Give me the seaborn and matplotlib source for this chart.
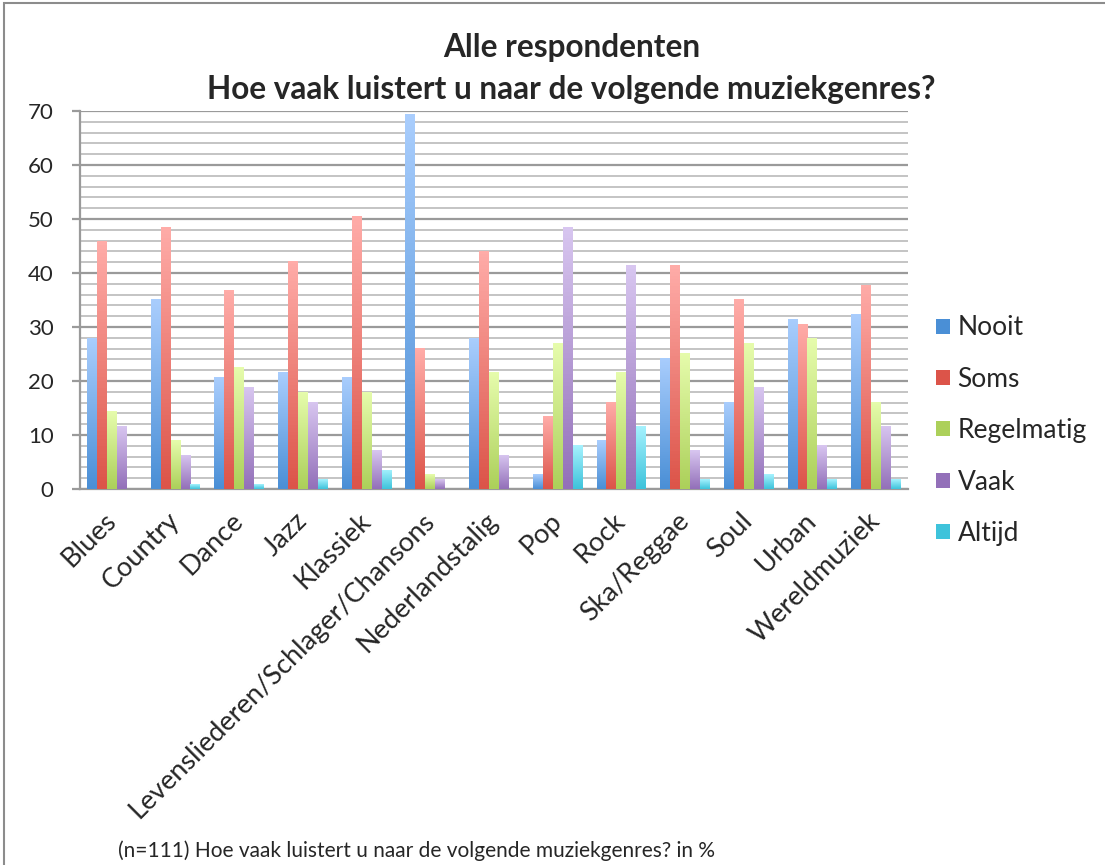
import matplotlib
matplotlib.use("Agg")
import matplotlib.pyplot as plt
from matplotlib.colors import LinearSegmentedColormap
from matplotlib.patches import Rectangle
from matplotlib.ticker import MultipleLocator
import numpy as np
import pandas as pd
import seaborn as sns

genres = ["Blues", "Country", "Dance", "Jazz", "Klassiek",
          "Levensliederen/Schlager/Chansons", "Nederlandstalig", "Pop", "Rock",
          "Ska/Reggae", "Soul", "Urban", "Wereldmuziek"]
answers = ["Nooit", "Soms", "Regelmatig", "Vaak", "Altijd"]

nooit = [27.9, 35.1, 20.7, 21.6, 20.7, 69.4, 27.9, 2.7, 9.0, 24.3, 16.2, 31.5, 32.4]
soms = [45.9, 48.6, 36.9, 42.3, 50.5, 26.1, 44.1, 13.5, 16.2, 41.4, 35.1, 30.6, 37.8]
regelmatig = [14.4, 9.0, 22.5, 18.0, 18.0, 2.7, 21.6, 27.0, 21.6, 25.2, 27.0, 27.9, 16.2]
vaak = [11.7, 6.3, 18.9, 16.2, 7.2, 1.8, 6.3, 48.6, 41.4, 7.2, 18.9, 8.1, 11.7]
altijd = [0.0, 0.9, 0.9, 1.8, 3.6, 0.0, 0.0, 8.1, 11.7, 1.8, 2.7, 1.8, 1.8]

# light top / dark bottom like the excel gradient fill
grad = {
    "Nooit": ("#a9cdfd", "#4a8fd6"),
    "Soms": ("#ffaca8", "#dc5449"),
    "Regelmatig": ("#e6fcac", "#acd05a"),
    "Vaak": ("#d8c6f0", "#9370b9"),
    "Altijd": ("#a6f2fe", "#3ec3db"),
}
solid = {k: v[1] for k, v in grad.items()}

df = pd.DataFrame({"genre": genres, "Nooit": nooit, "Soms": soms,
                   "Regelmatig": regelmatig, "Vaak": vaak, "Altijd": altijd})
long = df.melt(id_vars="genre", var_name="antwoord", value_name="pct")

sns.set_style("white")
plt.rcParams["font.family"] = ["Lato", "DejaVu Sans"]

fig = plt.figure(figsize=(11.05, 8.65), dpi=100)
ax = fig.add_axes([0.0724, 0.4347, 0.7493, 0.4370])

sns.barplot(data=long, x="genre", y="pct", hue="antwoord", hue_order=answers,
            order=genres, palette=solid, width=0.78, gap=0, ax=ax,
            errorbar=None, legend=False, saturation=1, zorder=3)

# gradient fill per bar
bars = ax.patches
for i, b in enumerate(bars):
    name = answers[i // len(genres)]
    h = b.get_height()
    if h <= 0:
        b.set_visible(False)
        continue
    cmap = LinearSegmentedColormap.from_list(name, [grad[name][1], grad[name][0]])
    x0 = b.get_x()
    w = b.get_width()
    img = ax.imshow(np.linspace(0, 1, 64).reshape(-1, 1), cmap=cmap, aspect="auto",
                    extent=[x0, x0 + w, 0, h], origin="lower", zorder=3)
    img.set_clip_path(b)
    b.set_facecolor("none")
    b.set_edgecolor("none")

ax.set_xlim(-0.5, len(genres) - 0.5)
ax.set_ylim(0, 70)
ax.yaxis.set_major_locator(MultipleLocator(10))
ax.yaxis.set_minor_locator(MultipleLocator(2))
ax.grid(which="major", axis="y", color="#9a9a9a", linewidth=1.6, zorder=0)
ax.grid(which="minor", axis="y", color="#c4c4c4", linewidth=1.4, zorder=0)
ax.set_axisbelow(True)

for s in ["top", "right"]:
    ax.spines[s].set_visible(False)
ax.spines["left"].set_color("#9a9a9a")
ax.spines["left"].set_linewidth(1.6)
ax.spines["bottom"].set_color("#9a9a9a")
ax.spines["bottom"].set_linewidth(1.6)

ax.tick_params(axis="y", which="major", length=6, width=1.6, color="#9a9a9a",
               labelsize=16, pad=13, left=True)
ax.tick_params(axis="y", which="minor", length=0)
ax.tick_params(axis="x", length=0, labelsize=19.5, pad=20)
ax.set_xticks(range(len(genres)))
ax.set_xticklabels(genres, rotation=45, ha="right", va="center",
                   rotation_mode="anchor")
ax.set_xlabel("")
ax.set_ylabel("")

fig.text(0.517, 0.945, "Alle respondenten", ha="center", va="center",
         fontsize=22.7, fontweight="bold")
fig.text(0.517, 0.897, "Hoe vaak luistert u naar de volgende muziekgenres?",
         ha="center", va="center", fontsize=22.7, fontweight="bold")
fig.text(0.107, 0.017, "(n=111) Hoe vaak luistert u naar de volgende muziekgenres? in %",
         ha="left", va="center", fontsize=15)

handles = [Rectangle((0, 0), 1, 1, facecolor=grad[a][1], edgecolor="none")
           for a in answers]
fig.legend(handles, answers, loc="center left", bbox_to_anchor=(0.826, 0.502),
           frameon=False, fontsize=19, handlelength=0.5, handleheight=0.5,
           handletextpad=0.3, labelspacing=1.0)

fig.patches.append(Rectangle((0.004, -0.01), 1.0, 1.006, transform=fig.transFigure,
                             fill=False, edgecolor="#8c8c8c", linewidth=1.5))

fig.savefig("out.png", dpi=100)
